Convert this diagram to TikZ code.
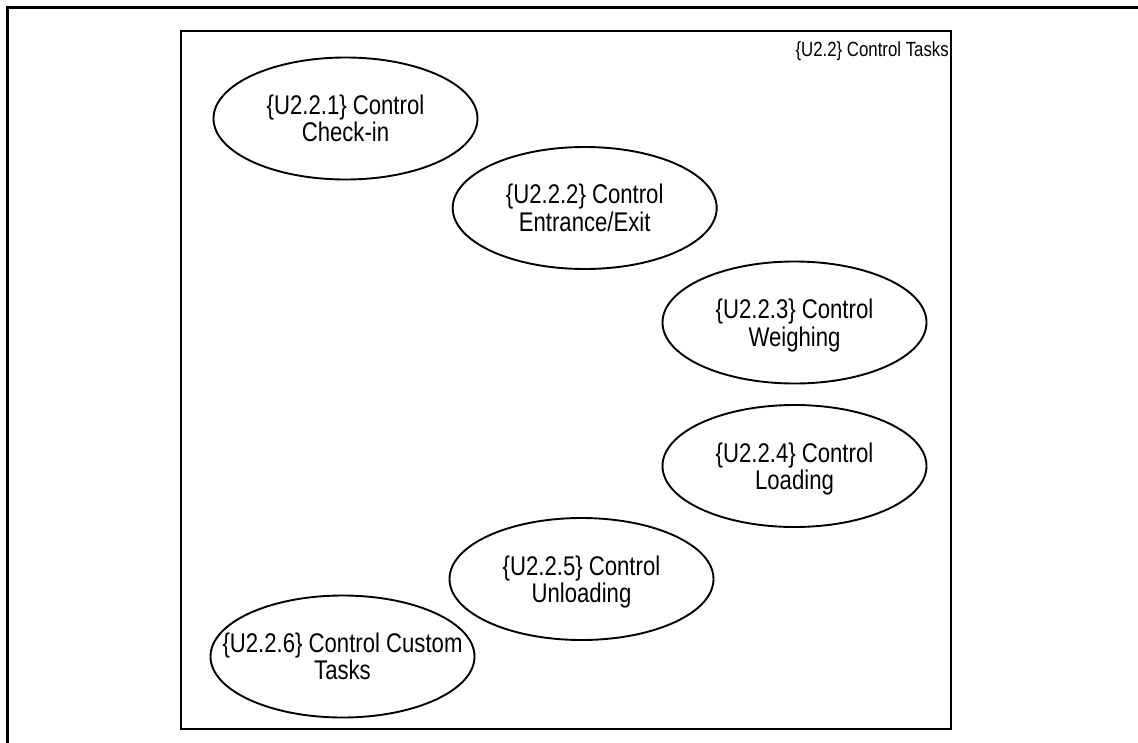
\documentclass[tikz,border=0pt]{standalone}
\usepackage{fontspec}
\setmainfont{Liberation Sans}[FakeStretch=0.82]
\usetikzlibrary{shapes.geometric}
\tikzset{
  frameline/.style={line width=2.3pt, line cap=rect},
  sysbox/.style={draw, line width=2.3pt, inner sep=0pt, minimum width=770pt, minimum height=698pt},
  usecase/.style={ellipse, draw, line width=1.9pt, minimum width=264pt, minimum height=122pt, inner sep=0pt},
  uclabel/.style={align=center, font=\fontsize{27}{27.5}\selectfont, inner sep=0pt},
  boxtitle/.style={font=\fontsize{20.5}{22}\selectfont, inner sep=0pt, anchor=base east}
}
\newcommand{\nodp}[1]{\raisebox{0pt}[\height][0pt]{#1}}
\begin{document}
\begin{tikzpicture}[x=1pt,y=-1pt]
\useasboundingbox (0,0) rectangle (1138,742);
% outer frame (partial)
\draw[frameline] (7.5,745) -- (7.5,7.5) -- (1140,7.5);
% system boundary
\node[sysbox] (sys) at (566,380) {};
\node[boxtitle] (systitle) at (949,56.3) {\{U2.2\} Control Tasks};
% use cases
\node[usecase] (u1) at (345.5,118.5) {};
\node[usecase] (u2) at (584.7,208) {};
\node[usecase] (u3) at (794.5,322.5) {};
\node[usecase] (u4) at (794.5,466) {};
\node[usecase] (u5) at (581.5,579) {};
\node[usecase] (u6) at (342.5,656.5) {};
\node[uclabel] (t1) at (u1) {\{U2.2.1\} Control\\Check-in};
\node[uclabel] (t2) at (u2) {\{U2.2.2\} Control\\Entrance/Exit};
\node[uclabel] (t3) at (u3) {\{U2.2.3\} Control\\\nodp{Weighing}};
\node[uclabel] (t4) at (u4) {\{U2.2.4\} Control\\\nodp{Loading}};
\node[uclabel] (t5) at (u5) {\{U2.2.5\} Control\\\nodp{Unloading}};
\node[uclabel] (t6) at (u6) {\{U2.2.6\} Control Custom\\Tasks};
\end{tikzpicture}
\end{document}
